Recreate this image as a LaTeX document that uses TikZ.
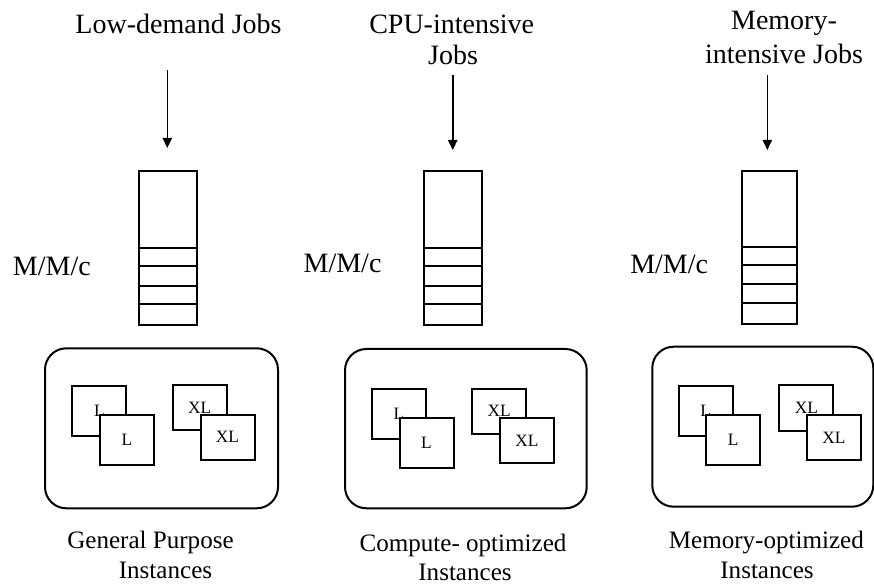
\documentclass[tikz,border=0pt]{standalone}
\usepackage{fontspec}
\setmainfont{Liberation Serif}
\usetikzlibrary{arrows.meta}

\tikzset{
  lbl/.style={inner sep=0pt, anchor=base, font=\fontsize{21pt}{25pt}\selectfont},
  caption/.style={inner sep=0pt, anchor=base, font=\fontsize{18.8pt}{22pt}\selectfont},
  queueline/.style={line width=1.5pt},
  pool/.style={draw, line width=1.5pt, rounded corners=16pt},
  vm/.style={draw, line width=1.5pt, fill=white, inner sep=0pt,
             font=\fontsize{13pt}{15pt}\selectfont},
  lvm/.style={vm, minimum width=40.5pt, minimum height=37.5pt},
  xlvm/.style={vm, minimum width=40.5pt, minimum height=34pt},
  jobarrow/.style={line width=1.2pt, -{Triangle[length=7.5pt,width=7pt]}}
}

\begin{document}
\begin{tikzpicture}[x=0.75pt, y=-0.75pt]
\useasboundingbox (0,0) rectangle (874,584);

% ---------- General purpose column ----------
\node[lbl] (t1) at (178.5,34) {Low-demand Jobs};
\coordinate (a1s) at (167.3,70);
\coordinate (a1e) at (167.3,148);
\draw[jobarrow] (a1s) -- (a1e);
\node[lbl, anchor=base west] (m1) at (12.7,276) {M/M/c};
\draw[queueline] (139.3,170.7) rectangle (196.7,325);
\foreach \y in {248,266,286,304} \draw[queueline] (139.3,\y) -- (196.7,\y);
\draw[pool] (45,348.3) rectangle (278,508.3);
\node[lvm]  (l1a) at (99.3,410.7) {L};
\node[lvm]  (l1b) at (126.8,440.2) {L};
\node[xlvm] (x1a) at (199.7,407.8) {XL};
\node[xlvm] (x1b) at (227.5,437.3) {XL};
\node[caption] (c1a) at (150.5,548.5) {General Purpose};
\node[caption] (c1b) at (165.5,578) {Instances};

% ---------- Compute optimized column ----------
\node[lbl] (t2a) at (451.7,33.5) {CPU-intensive};
\node[lbl] (t2b) at (453,65) {Jobs};
\coordinate (a2s) at (452.7,75);
\coordinate (a2e) at (452.7,150);
\draw[jobarrow] (a2s) -- (a2e);
\node[lbl, anchor=base east] (m2) at (381.7,272.7) {M/M/c};
\draw[queueline] (424,170.7) rectangle (481.7,325);
\foreach \y in {247.7,266,285.7,304} \draw[queueline] (424,\y) -- (481.7,\y);
\draw[pool] (345,349) rectangle (586.7,508.3);
\node[lvm]  (l2a) at (398.8,413.8) {L};
\node[lvm]  (l2b) at (426.5,443.2) {L};
\node[xlvm] (x2a) at (499.2,411.2) {XL};
\node[xlvm] (x2b) at (527,440.5) {XL};
\node[caption] (c2a) at (463,551) {Compute- optimized};
\node[caption] (c2b) at (465,580) {Instances};

% ---------- Memory optimized column ----------
\node[lbl] (t3a) at (784,30) {Memory-};
\node[lbl] (t3b) at (784,63.3) {intensive Jobs};
\coordinate (a3s) at (767.3,75);
\coordinate (a3e) at (767.3,150);
\draw[jobarrow] (a3s) -- (a3e);
\node[lbl, anchor=base west] (m3) at (630,273.3) {M/M/c};
\draw[queueline] (741.7,170.7) rectangle (797.3,324);
\foreach \y in {246.7,265,284.3,303.3} \draw[queueline] (741.7,\y) -- (797.3,\y);
\draw[pool] (652.3,346.7) rectangle (873.3,506.7);
\node[lvm]  (l3a) at (705.7,410.8) {L};
\node[lvm]  (l3b) at (733.2,440.2) {L};
\node[xlvm] (x3a) at (806.3,408) {XL};
\node[xlvm] (x3b) at (833.8,437.5) {XL};
\node[caption] (c3a) at (766.3,548.3) {Memory-optimized};
\node[caption] (c3b) at (767,578) {Instances};
\end{tikzpicture}
\end{document}
